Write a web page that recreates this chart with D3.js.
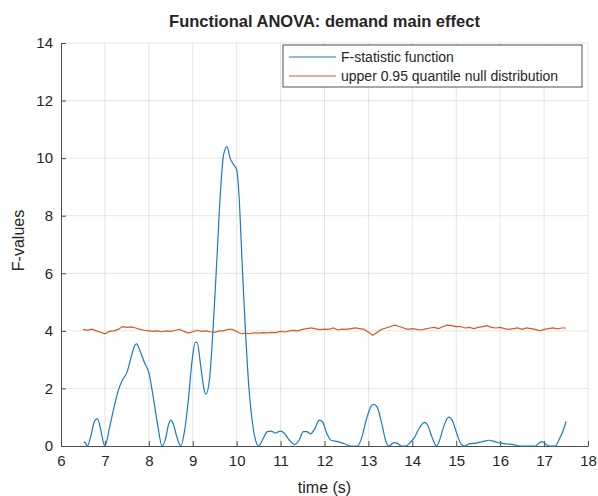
<!DOCTYPE html>
<html>
<head>
<meta charset="utf-8">
<script src="https://cdn.jsdelivr.net/npm/d3@7"></script>
<style>
  body { margin: 0; background: #fff; }
  svg text { font-family: "Liberation Sans", Arial, Helvetica, sans-serif; fill: #262626; }
  .grid line { stroke: #262626; stroke-opacity: 0.12; }
  .axis path, .axis line { stroke: #4d4d4d; }
</style>
</head>
<body>
<div id="chart"></div>
<script>
// F-statistic function (blue)
var fTime = [6.52, 6.56, 6.60, 6.68, 6.76, 6.83, 6.90, 6.96, 7.00, 7.10, 7.20, 7.30, 7.40, 7.50, 7.60, 7.68, 7.72, 7.80, 7.90, 8.00,
    8.10, 8.20, 8.30, 8.38, 8.45, 8.50, 8.56, 8.65, 8.73, 8.82, 8.90, 8.98, 9.06, 9.10, 9.18, 9.26, 9.30, 9.38, 9.46, 9.55,
    9.63, 9.70, 9.78, 9.85, 9.92, 10.00, 10.05, 10.12, 10.20, 10.28, 10.36, 10.44, 10.50, 10.60, 10.70, 10.78, 10.88, 11.00, 11.08, 11.20,
    11.32, 11.42, 11.52, 11.60, 11.68, 11.78, 11.88, 11.95, 12.05, 12.15, 12.30, 12.45, 12.60, 12.75, 12.85, 12.95, 13.05, 13.12, 13.20, 13.30,
    13.40, 13.47, 13.58, 13.65, 13.75, 13.85, 13.95, 14.05, 14.15, 14.28, 14.35, 14.45, 14.55, 14.62, 14.72, 14.83, 14.92, 15.02, 15.12, 15.20,
    15.30, 15.45, 15.60, 15.75, 15.88, 16.00, 16.15, 16.30, 16.45, 16.80, 16.90, 16.95, 17.05, 17.12, 17.25, 17.35, 17.45, 17.50];
var fValues = [0.15, 0.1, 0.0, 0.35, 0.85, 0.95, 0.6, 0.15, 0.0, 0.6, 1.3, 1.9, 2.3, 2.55, 3.1, 3.5, 3.55, 3.3, 2.9, 2.55,
    1.7, 0.75, 0.0, 0.25, 0.75, 0.9, 0.75, 0.25, 0.0, 0.6, 1.6, 2.9, 3.6, 3.6, 2.8, 1.95, 1.8, 2.3, 4.0, 6.5,
    8.8, 10.1, 10.4, 10.0, 9.8, 9.6, 8.8, 6.5, 4.0, 2.0, 0.8, 0.15, 0.0, 0.25, 0.5, 0.52, 0.45, 0.52, 0.45, 0.2,
    0.05, 0.2, 0.5, 0.5, 0.42, 0.6, 0.9, 0.85, 0.45, 0.2, 0.15, 0.08, 0.0, 0.0, 0.3, 0.9, 1.35, 1.45, 1.35, 0.8,
    0.15, 0.0, 0.12, 0.1, 0.0, 0.0, 0.12, 0.3, 0.6, 0.82, 0.72, 0.3, 0.0, 0.2, 0.7, 1.0, 0.85, 0.4, 0.05, 0.0,
    0.08, 0.1, 0.15, 0.2, 0.15, 0.1, 0.07, 0.05, 0.0, 0.0, 0.12, 0.15, 0.05, 0.0, 0.0, 0.25, 0.6, 0.85];

// upper 0.95 quantile of the null distribution (orange)
var qTime = [6.5, 6.6, 6.7, 6.8, 6.9, 7.0, 7.1, 7.2, 7.3, 7.4, 7.5, 7.6, 7.7, 7.8, 7.9, 8.0, 8.1, 8.2, 8.3, 8.4,
    8.5, 8.6, 8.7, 8.8, 8.9, 9.0, 9.1, 9.2, 9.3, 9.4, 9.5, 9.6, 9.7, 9.8, 9.9, 10.0, 10.1, 10.2, 10.3, 10.4,
    10.5, 10.6, 10.7, 10.8, 10.9, 11.0, 11.1, 11.2, 11.3, 11.4, 11.5, 11.6, 11.7, 11.8, 11.9, 12.0, 12.1, 12.2, 12.3, 12.4,
    12.5, 12.6, 12.7, 12.8, 12.9, 13.0, 13.1, 13.2, 13.3, 13.4, 13.5, 13.6, 13.7, 13.8, 13.9, 14.0, 14.1, 14.2, 14.3, 14.4,
    14.5, 14.6, 14.7, 14.8, 14.9, 15.0, 15.1, 15.2, 15.3, 15.4, 15.5, 15.6, 15.7, 15.8, 15.9, 16.0, 16.1, 16.2, 16.3, 16.4,
    16.5, 16.6, 16.7, 16.8, 16.9, 17.0, 17.1, 17.2, 17.3, 17.4, 17.5];
var qValues = [4.05, 4.02, 4.06, 4.0, 3.95, 3.9, 3.98, 4.0, 4.05, 4.15, 4.12, 4.14, 4.1, 4.05, 4.02, 4.0, 3.98, 4.0, 3.97, 4.0,
    3.98, 4.02, 4.05, 3.98, 3.92, 3.97, 4.02, 3.98, 4.0, 3.97, 3.95, 4.0, 4.0, 4.05, 4.05, 3.98, 3.9, 3.92, 3.9, 3.93,
    3.92, 3.94, 3.93, 3.95, 3.94, 3.98, 3.96, 4.0, 4.02, 4.0, 4.05, 4.08, 4.1, 4.07, 4.04, 4.06, 4.05, 4.1, 4.03, 4.06,
    4.05, 4.08, 4.1, 4.08, 4.05, 3.95, 3.85, 3.95, 4.05, 4.1, 4.15, 4.2, 4.15, 4.1, 4.05, 4.08, 4.05, 4.03, 4.07, 4.1,
    4.12, 4.08, 4.15, 4.2, 4.18, 4.15, 4.15, 4.1, 4.12, 4.08, 4.12, 4.15, 4.18, 4.12, 4.1, 4.12, 4.08, 4.05, 4.08, 4.1,
    4.05, 4.1, 4.08, 4.05, 4.0, 4.05, 4.08, 4.1, 4.07, 4.1, 4.1];

var xTicks = [6, 7, 8, 9, 10, 11, 12, 13, 14, 15, 16, 17, 18];
var yTicks = [0, 2, 4, 6, 8, 10, 12, 14];
var legendLabels = ["F-statistic function", "upper 0.95 quantile null distribution"];
var colors = ["#1A7BBE", "#D75A24"];

var margin = {
        top: 43,
        right: 10,
        bottom: 50,
        left: 61
    },
    width = 598 - margin.left - margin.right,
    height = 496 - margin.top - margin.bottom;

var x = d3.scaleLinear().domain([6, 18]).range([0, width]);
var y = d3.scaleLinear().domain([0, 14]).range([height, 0]);

var svg = d3.select("#chart").append("svg")
    .attr("width", 598)
    .attr("height", 496)
    .append("g")
    .attr("transform", "translate(" + margin.left + "," + margin.top + ")");

// grid
svg.append("g")
    .attr("class", "grid")
    .selectAll("line.v")
    .data(xTicks.slice(1))
    .enter().append("line")
    .attr("x1", function (d) { return x(d); })
    .attr("x2", function (d) { return x(d); })
    .attr("y1", 0)
    .attr("y2", height);

svg.append("g")
    .attr("class", "grid")
    .selectAll("line.h")
    .data(yTicks.slice(1))
    .enter().append("line")
    .attr("x1", 0)
    .attr("x2", width)
    .attr("y1", function (d) { return y(d); })
    .attr("y2", function (d) { return y(d); });

// axes, ticks pointing inward like matlab
var xAxis = d3.axisBottom(x)
    .tickValues(xTicks)
    .tickSizeInner(-5)
    .tickSizeOuter(0)
    .tickPadding(9);

var yAxis = d3.axisLeft(y)
    .tickValues(yTicks)
    .tickSizeInner(-5)
    .tickSizeOuter(0)
    .tickPadding(8);

svg.append("g")
    .attr("class", "x axis")
    .attr("transform", "translate(0," + height + ")")
    .call(xAxis)
    .selectAll("text")
    .style("font-size", "15px");

svg.append("g")
    .attr("class", "y axis")
    .call(yAxis)
    .selectAll("text")
    .style("font-size", "15px");

// lines
var line = d3.line()
    .x(function (d) { return x(d[0]); })
    .y(function (d) { return y(d[1]); });

var fData = fTime.map(function (t, i) { return [t, fValues[i]]; });
var qData = qTime.map(function (t, i) { return [t, qValues[i]]; });

svg.append("path")
    .datum(fData)
    .attr("fill", "none")
    .attr("stroke", colors[0])
    .attr("stroke-width", 1.2)
    .attr("d", line.curve(d3.curveMonotoneX));

svg.append("path")
    .datum(qData)
    .attr("fill", "none")
    .attr("stroke", colors[1])
    .attr("stroke-width", 1.2)
    .attr("d", line.curve(d3.curveLinear));

// title and labels
svg.append("text")
    .attr("x", width / 2)
    .attr("y", -16)
    .style("text-anchor", "middle")
    .style("font-size", "16.5px")
    .style("font-weight", "bold")
    .text("Functional ANOVA: demand main effect");

svg.append("text")
    .attr("x", width / 2)
    .attr("y", height + 47)
    .style("text-anchor", "middle")
    .style("font-size", "16px")
    .text("time (s)");

svg.append("text")
    .attr("transform", "rotate(-90)")
    .attr("x", -height / 2 + 4)
    .attr("y", -37)
    .style("text-anchor", "middle")
    .style("font-size", "16px")
    .text("F-values");

// legend
var legend = svg.append("g")
    .attr("transform", "translate(" + (283 - margin.left) + "," + (45 - margin.top) + ")");

legend.append("rect")
    .attr("width", 299)
    .attr("height", 42)
    .attr("fill", "#fff")
    .attr("stroke", "#262626")
    .attr("stroke-width", 0.8);

legendLabels.forEach(function (label, i) {
    legend.append("line")
        .attr("x1", 6)
        .attr("x2", 53)
        .attr("y1", 12 + i * 19)
        .attr("y2", 12 + i * 19)
        .attr("stroke", colors[i])
        .attr("stroke-width", 1.2);
    legend.append("text")
        .attr("x", 58)
        .attr("y", 12 + i * 19)
        .attr("dy", "0.35em")
        .style("font-size", "14px")
        .text(label);
});
</script>
</body>
</html>
